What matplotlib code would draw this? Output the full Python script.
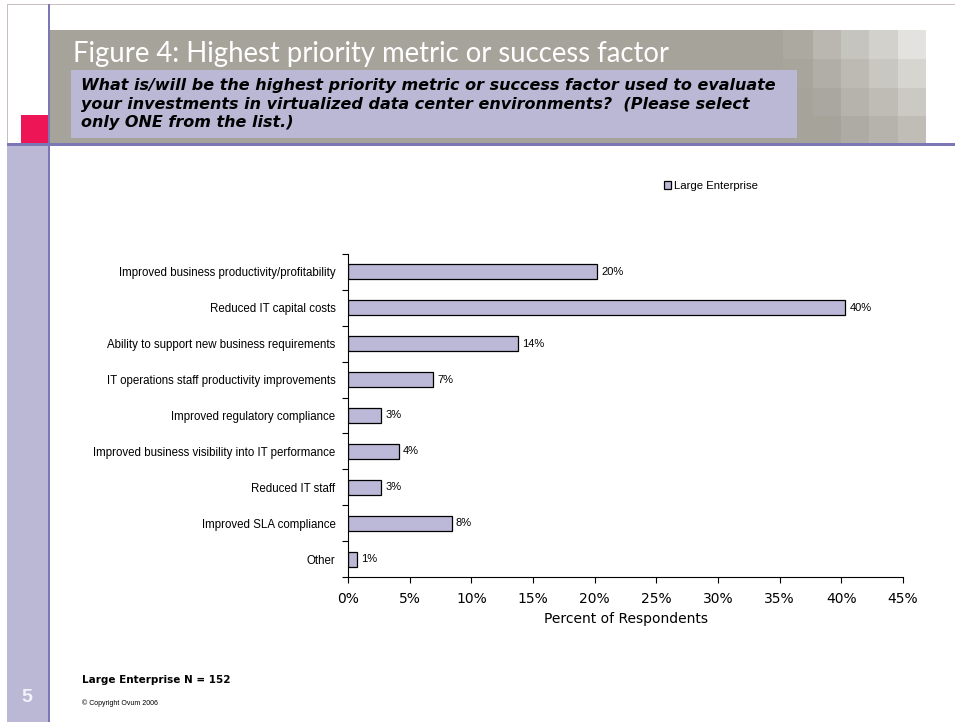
import matplotlib
matplotlib.use("Agg")
import matplotlib.pyplot as plt
from matplotlib.patches import Rectangle

# ─── Data ─────────────────────────────────────────────────────────────────────

categories = [
    "Improved business productivity/profitability",
    "Reduced IT capital costs",
    "Ability to support new business requirements",
    "IT operations staff productivity improvements",
    "Improved regulatory compliance",
    "Improved business visibility into IT performance",
    "Reduced IT staff",
    "Improved SLA compliance",
    "Other",
]
large_enterprise = [20.2, 40.3, 13.8, 6.9, 2.7, 4.1, 2.7, 8.4, 0.7]
x_ticks = [0, 5, 10, 15, 20, 25, 30, 35, 40, 45]

series_name = "Large Enterprise"
title = "Figure 4: Highest priority metric or success factor"
question = ("What is/will be the highest priority metric or success factor used to evaluate\n"
            "your investments in virtualized data center environments?  (Please select\n"
            "only ONE from the list.)")
sample_note = "Large Enterprise N = 152"
copyright_note = "\u00a9 Copyright Ovum 2006"
page_no = "5"

# ─── Styles ───────────────────────────────────────────────────────────────────

W, H = 955, 722
BAR = "#bcb8d8"
LAV = "#bbb8d6"
PURPLE = "#7b76b6"
BAND = "#a6a39b"
RED = "#ee1556"
checker = [
    ["#aca9a1", "#bab7b0", "#c6c4be", "#d3d1cc", "#e3e2df"],
    ["#a8a59d", "#b1aea7", "#bdbab3", "#c9c7c1", "#d6d5d0"],
    ["#a6a39b", "#aaa7a0", "#b6b3ac", "#bebcb5", "#cbc9c3"],
    ["#a6a39b", "#a6a39b", "#aeaba4", "#b6b3ac", "#bfbdb6"],
]
col_edges = [783, 813, 841, 869, 898, 926]
row_edges = [30, 59, 88, 116, 143]

fig = plt.figure(figsize=(W / 100, H / 100), dpi=100)

# page decoration in pixel coordinates
bg = fig.add_axes([0, 0, 1, 1], zorder=0)
bg.set_xlim(0, W)
bg.set_ylim(H, 0)
bg.axis("off")


def box(x0, y0, x1, y1, color):
    bg.add_patch(Rectangle((x0, y0), x1 - x0, y1 - y0, facecolor=color,
                           edgecolor="none", linewidth=0))


box(7, 4, W, 5, "#cbbfbf")            # top rule
box(7, 4, 8, 143, "#cbbfbf")          # left thin rule
box(50, 30, 926, 143, BAND)           # header band
for r in range(4):
    for c in range(5):
        box(col_edges[c], row_edges[r], col_edges[c + 1], row_edges[r + 1], checker[r][c])
box(71, 70, 797, 138, LAV)            # question box
box(21, 115, 48, 143, RED)            # red square
box(7, 145, 48, H, LAV)               # left strip
box(7, 143, W, 146, PURPLE)           # horizontal rule
box(48, 4, 50, H, PURPLE)             # vertical rule

bg.text(73, 54, title, fontsize=19.8, color="white", family="Lato",
        va="center", ha="left")
bg.text(81, 104, question, fontsize=11.5, color="black", family="DejaVu Sans",
        weight="bold", style="italic", va="center", ha="left", linespacing=1.27)
bg.text(82, 680, sample_note, fontsize=7.5, weight="bold", family="DejaVu Sans",
        va="center", ha="left")
bg.text(82, 703, copyright_note, fontsize=5, family="Liberation Sans",
        va="center", ha="left")
bg.text(27, 697, page_no, fontsize=14, weight="bold", color="#f2f2f8",
        family="Liberation Sans", va="center", ha="center")

# ─── Bar chart ────────────────────────────────────────────────────────────────

ax = fig.add_axes([348 / W, 1 - 577 / H, 555 / W, 323 / H], zorder=2)
ax.patch.set_alpha(0)
ypos = list(range(len(categories)))
bars = ax.barh(ypos, large_enterprise, height=0.42, color=BAR,
               edgecolor="black", linewidth=0.9, label=series_name)
for y, v in zip(ypos, large_enterprise):
    ax.text(v + 0.35, y, f"{round(v)}%", va="center", ha="left",
            fontsize=8, family="Liberation Sans")

ax.set_xlim(0, 45)
ax.set_ylim(len(categories) - 0.5, -0.5)
ax.set_xticks(x_ticks)
ax.set_xticklabels([f"{t}%" for t in x_ticks], fontsize=10, family="DejaVu Sans")
ax.set_yticks(ypos)
ax.set_yticklabels(categories, fontsize=8.3, family="Liberation Sans")
ax.tick_params(axis="y", which="major", length=0, pad=9)
ax.set_yticks([y - 0.5 for y in ypos] + [len(categories) - 0.5], minor=True)
ax.tick_params(axis="y", which="minor", length=4, width=0.8, direction="out")
ax.tick_params(axis="x", length=4, width=0.8, direction="out", pad=7)
ax.set_xlabel("Percent of Respondents", fontsize=10, family="DejaVu Sans", labelpad=4)
for s in ["top", "right"]:
    ax.spines[s].set_visible(False)
for s in ["left", "bottom"]:
    ax.spines[s].set_linewidth(0.8)

ax.legend(loc="center left", bbox_to_anchor=(658 / W, 1 - 186 / H),
          bbox_transform=fig.transFigure, frameon=False, handlelength=0.6,
          handleheight=0.6, handletextpad=0.3, borderpad=0,
          prop={"family": "Liberation Sans", "size": 8.2})

fig.savefig("out.png", dpi=100)
